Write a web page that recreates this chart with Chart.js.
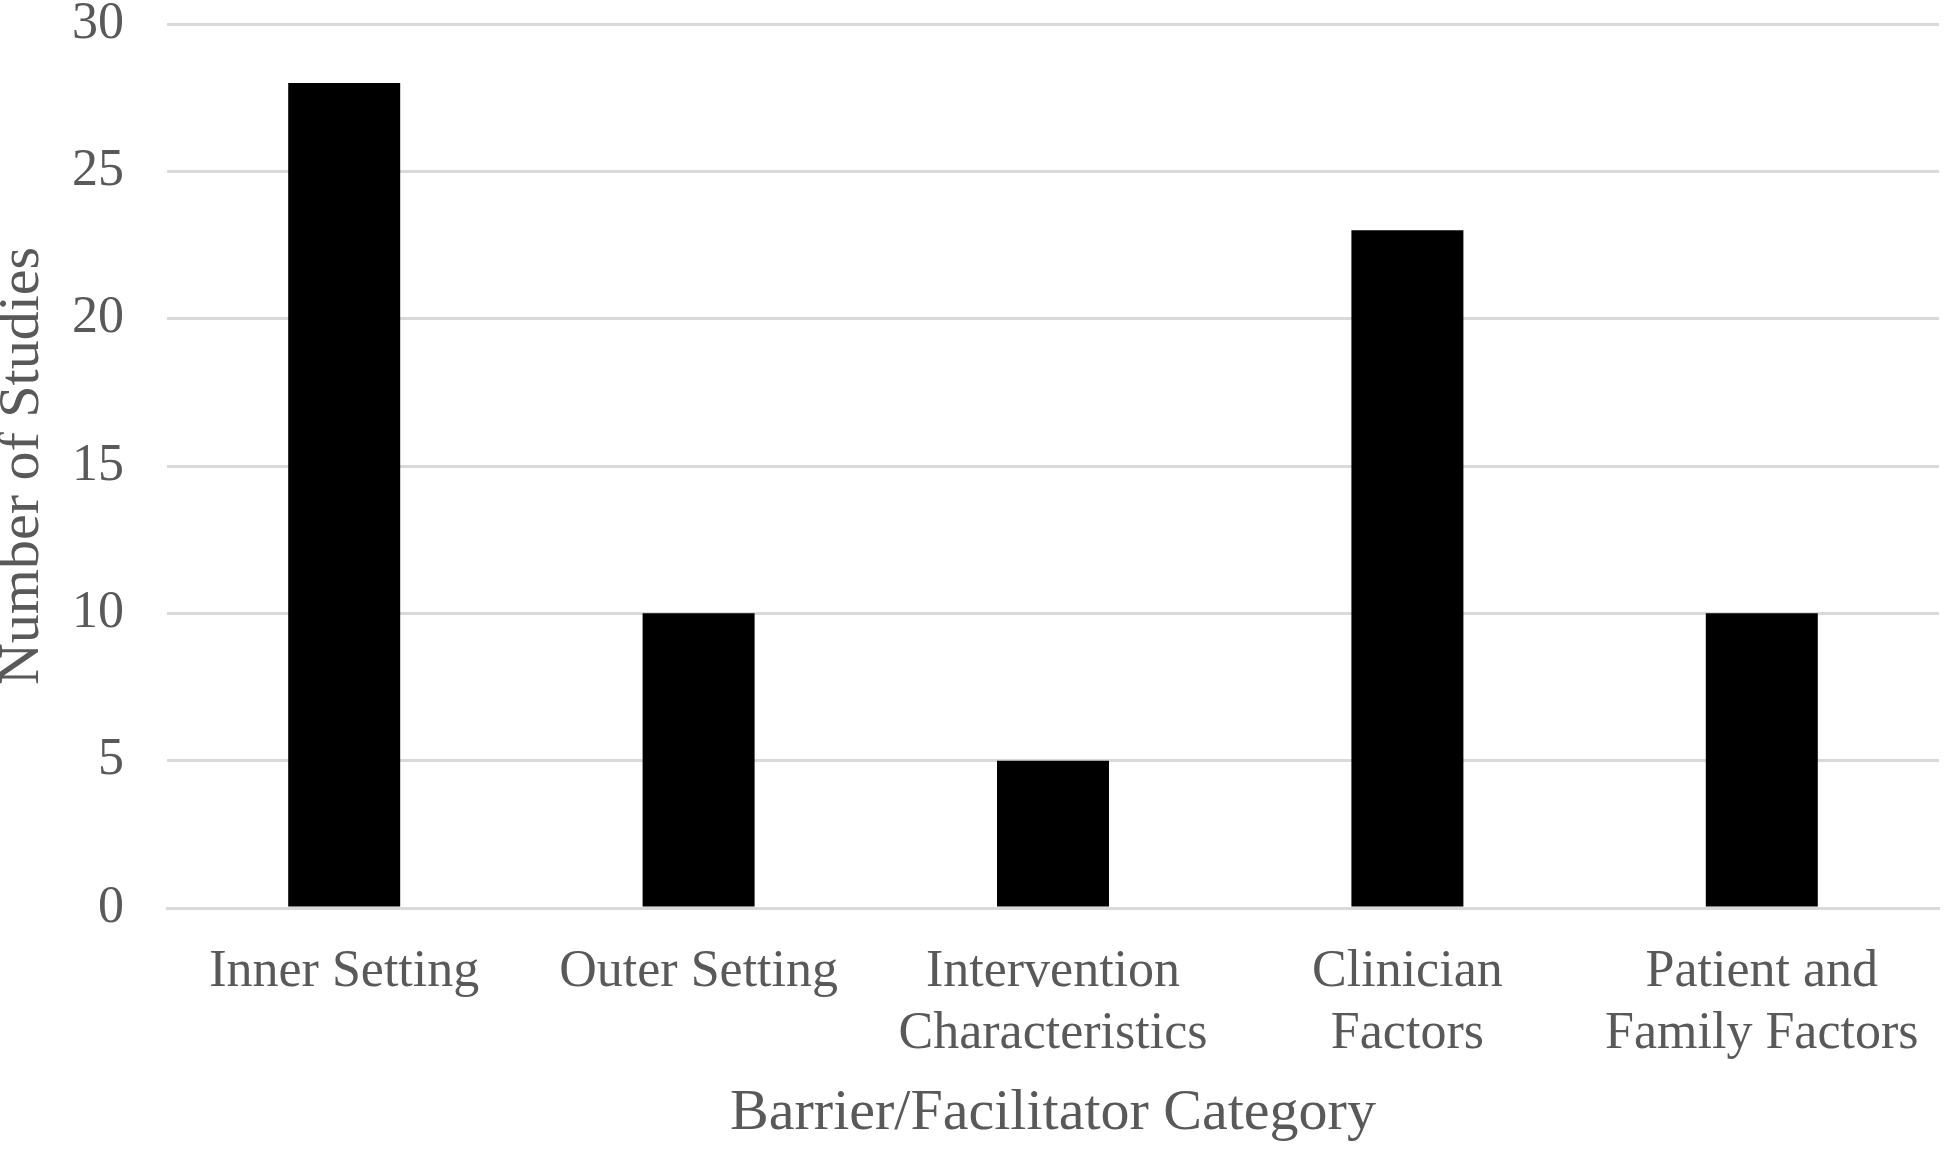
<!DOCTYPE html>
<html>
<head>
<meta charset="utf-8">
<script src="https://cdn.jsdelivr.net/npm/chart.js@4/dist/chart.umd.min.js"></script>
<style>
  html, body { margin: 0; padding: 0; background: #fff; }
  #wrap { width: 1950px; height: 1151px; position: relative; }
</style>
</head>
<body>
<div id="wrap"><canvas id="estudios"></canvas></div>
<script>
const categorias = [
  "Inner Setting",
  "Outer Setting",
  ["Intervention", "Characteristics"],
  ["Clinician", "Factors"],
  ["Patient and", "Family Factors"],
];
const numeroEstudios = [28, 10, 5, 23, 10];
const ticksY = [0, 5, 10, 15, 20, 25, 30];

const gris = "#595959";
const fuente = "'Liberation Serif', 'Times New Roman', serif";

new Chart(document.getElementById("estudios"), {
  type: "bar",
  data: {
    labels: categorias,
    datasets: [
      {
        label: "Number of Studies",
        data: numeroEstudios,
        backgroundColor: "#000000",
        borderWidth: 0,
        categoryPercentage: 1,
        barPercentage: 0.316,
      },
    ],
  },
  options: {
    responsive: true,
    maintainAspectRatio: false,
    animation: false,
    layout: { padding: { top: 24, right: 11, left: 0, bottom: 0 } },
    plugins: {
      legend: { display: false },
      tooltip: { enabled: false },
    },
    scales: {
      x: {
        grid: { display: false, drawTicks: false },
        border: { display: true, color: "#d9d9d9", width: 3 },
        ticks: {
          color: gris,
          font: { family: fuente, size: 52, lineHeight: 1.18 },
          padding: 34,
          maxRotation: 0,
          autoSkip: false,
        },
        title: {
          display: true,
          text: "Barrier/Facilitator Category",
          color: gris,
          font: { family: fuente, size: 58 },
          padding: { top: 0, bottom: 2 },
        },
        afterFit: (scale) => {
          scale.height = 243;
          scale.paddingLeft = 0;
          scale.paddingRight = 0;
        },
      },
      y: {
        min: 0,
        max: 30,
        afterBuildTicks: (scale) => {
          scale.ticks = ticksY.map((v) => ({ value: v }));
        },
        grid: { color: "#d9d9d9", lineWidth: 3, drawTicks: false },
        border: { display: false },
        ticks: {
          color: gris,
          font: { family: fuente, size: 52 },
          padding: 43,
        },
        title: {
          display: true,
          text: "Number of Studies",
          color: gris,
          font: { family: fuente, size: 58 },
          padding: { top: -12, bottom: 0 },
        },
        afterFit: (scale) => {
          scale.width = 167;
          scale.paddingTop = 0;
          scale.paddingBottom = 0;
        },
      },
    },
  },
});
</script>
</body>
</html>
